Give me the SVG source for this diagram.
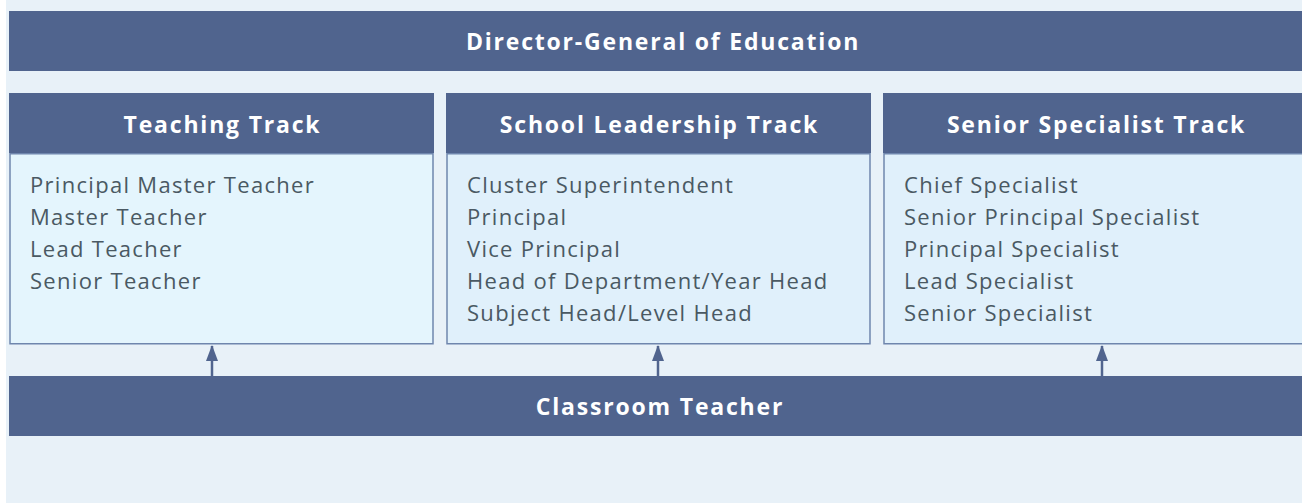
<svg xmlns="http://www.w3.org/2000/svg" width="1302" height="504" viewBox="0 0 1302 504">
  <style>
    .bar { fill: #50648e; }
    .body { fill: #e0f0fb; stroke: #6f86ad; stroke-width: 1.5; }
    .title { font-family: "Open Sans", "Liberation Sans", sans-serif; font-weight: 700; font-size: 23px; fill: #ffffff; text-anchor: middle; letter-spacing: 1.8px; }
    .item { font-family: "Open Sans", "Liberation Sans", sans-serif; font-size: 22px; fill: #4a5963; letter-spacing: 1.3px; }
    .conn { stroke: #50648e; stroke-width: 2.5; fill: none; }
  </style>
  <defs>
    <marker id="arrow" viewBox="0 0 16 12" refX="15" refY="6" markerWidth="16" markerHeight="12" markerUnits="userSpaceOnUse" orient="auto">
      <path d="M0,0 L16,6 L0,12 Z" fill="#50648e"/>
    </marker>
  </defs>

  <rect x="6" y="0" width="1296" height="503" fill="#e8f1f8"/>

  <g id="director">
    <rect class="bar" x="9" y="11" width="1293" height="60"/>
    <text class="title" x="663" y="50">Director-General of Education</text>
  </g>

  <g id="teaching-track">
    <rect class="bar" x="9" y="93" width="425" height="60"/>
    <text class="title" x="222.5" y="133">Teaching Track</text>
    <rect class="body" x="10" y="153.75" width="423" height="190" fill="#e4f5fd" style="fill:#e4f5fd"/>
    <text class="item" x="30" y="193">Principal Master Teacher</text>
    <text class="item" x="30" y="225">Master Teacher</text>
    <text class="item" x="30" y="257">Lead Teacher</text>
    <text class="item" x="30" y="289">Senior Teacher</text>
  </g>

  <g id="leadership-track">
    <rect class="bar" x="446" y="93" width="425" height="60"/>
    <text class="title" x="659.5" y="133">School Leadership Track</text>
    <rect class="body" x="447" y="153.75" width="423" height="190"/>
    <text class="item" x="467" y="193">Cluster Superintendent</text>
    <text class="item" x="467" y="225">Principal</text>
    <text class="item" x="467" y="257">Vice Principal</text>
    <text class="item" x="467" y="289">Head of Department/Year Head</text>
    <text class="item" x="467" y="321">Subject Head/Level Head</text>
  </g>

  <g id="specialist-track">
    <rect class="bar" x="883" y="93" width="425" height="60"/>
    <text class="title" x="1096.5" y="133">Senior Specialist Track</text>
    <rect class="body" x="884" y="153.75" width="423" height="190"/>
    <text class="item" x="904" y="193">Chief Specialist</text>
    <text class="item" x="904" y="225">Senior Principal Specialist</text>
    <text class="item" x="904" y="257">Principal Specialist</text>
    <text class="item" x="904" y="289">Lead Specialist</text>
    <text class="item" x="904" y="321">Senior Specialist</text>
  </g>

  <g id="classroom-teacher">
    <rect class="bar" x="9" y="376" width="1293" height="60"/>
    <text class="title" x="660" y="415">Classroom Teacher</text>
  </g>

  <g id="connectors">
    <line class="conn" x1="212" y1="376" x2="212" y2="346" marker-end="url(#arrow)"/>
    <line class="conn" x1="658" y1="376" x2="658" y2="346" marker-end="url(#arrow)"/>
    <line class="conn" x1="1102" y1="376" x2="1102" y2="346" marker-end="url(#arrow)"/>
  </g>
</svg>
